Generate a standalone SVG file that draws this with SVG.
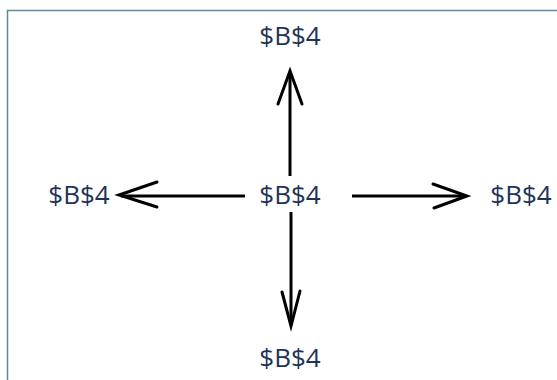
<svg xmlns="http://www.w3.org/2000/svg" width="557" height="380" viewBox="0 0 557 380">
  <style>
    .lbl { font-family: "Open Sans", "Liberation Sans", sans-serif; font-size: 26px; fill: #1f3358; text-anchor: middle; }
    .edge { stroke: #000; stroke-width: 3; fill: none; stroke-linecap: butt; }
    .head { stroke: #000; stroke-width: 3; fill: none; stroke-linejoin: miter; stroke-linecap: round; }
    .frame { stroke: #5e8a99; stroke-width: 1.5; fill: none; }
  </style>
  <rect width="557" height="380" fill="#fff"/>
  <!-- frame edges -->
  <path class="frame" d="M7.5 380 V10.5 H557"/>

  <g id="node-center"><text class="lbl" x="290" y="204">$B$4</text></g>
  <g id="node-top"><text class="lbl" x="290" y="45">$B$4</text></g>
  <g id="node-bottom"><text class="lbl" x="290" y="367">$B$4</text></g>
  <g id="node-left"><text class="lbl" x="79" y="204">$B$4</text></g>
  <g id="node-right"><text class="lbl" x="521" y="204">$B$4</text></g>

  <g id="connectors">
    <!-- up -->
    <path class="edge" d="M290 176 V72"/>
    <path class="head" d="M278 104 L290 71 L302 104"/>
    <!-- down -->
    <path class="edge" d="M291 212 V325"/>
    <path class="head" d="M282 292 L291 326 L300 291"/>
    <!-- left -->
    <path class="edge" d="M245 196 H121"/>
    <path class="head" d="M157 182 L119 195 L157 207"/>
    <!-- right -->
    <path class="edge" d="M352 196 H466"/>
    <path class="head" d="M433 184 L467 196 L434 208"/>
  </g>
</svg>
